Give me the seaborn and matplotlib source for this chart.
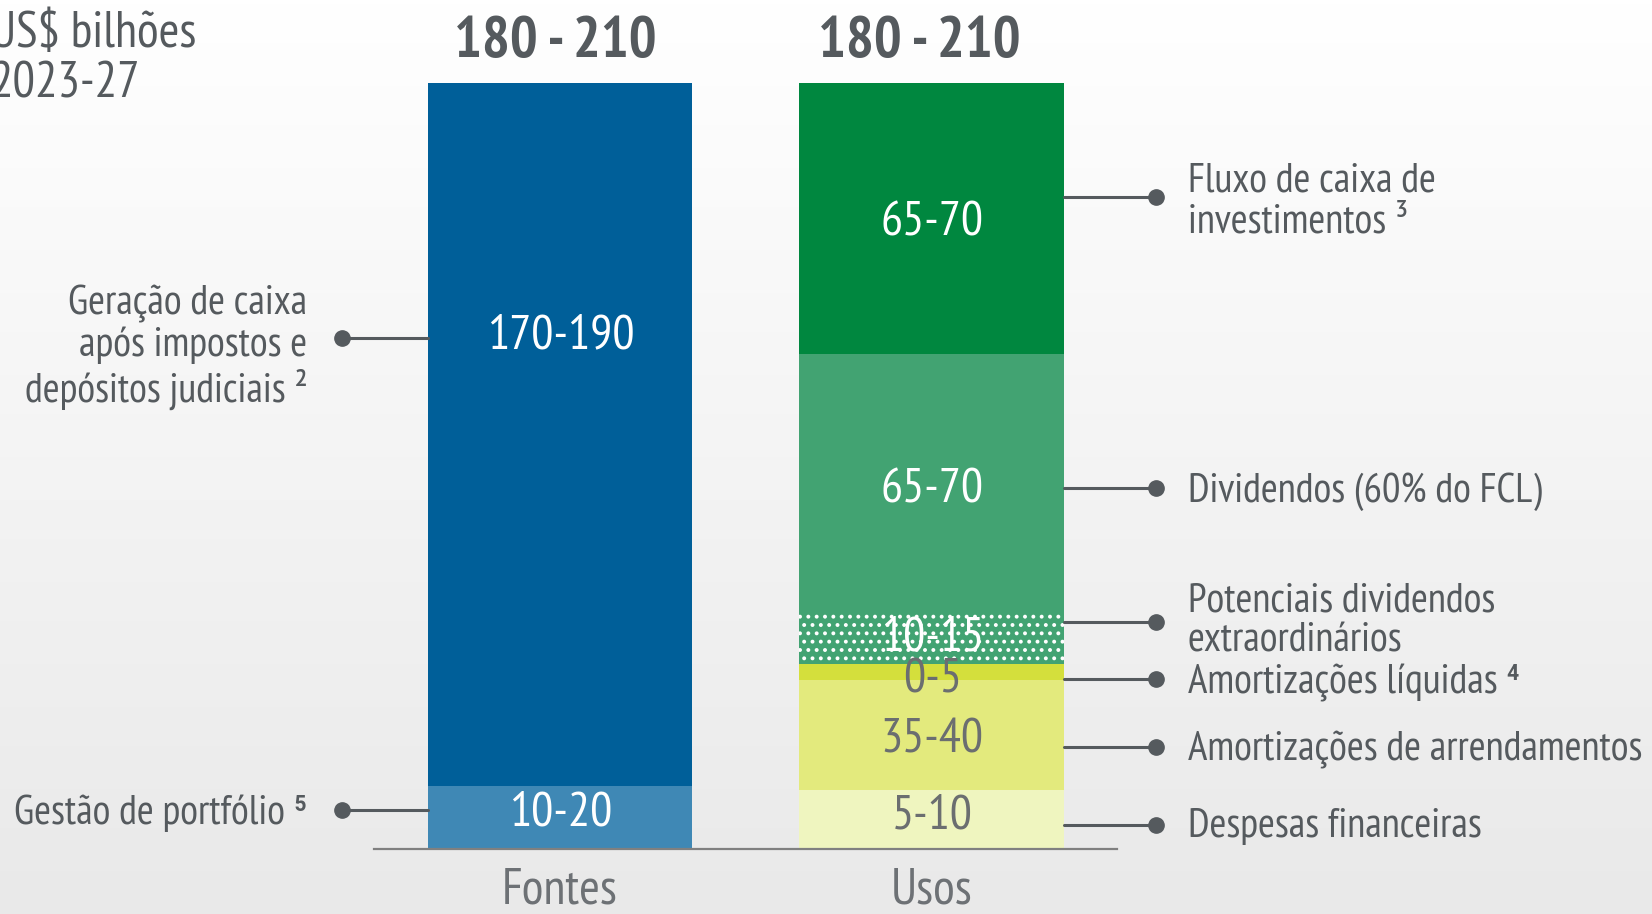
import numpy as np
import matplotlib
matplotlib.use("Agg")
import matplotlib.pyplot as plt
from matplotlib.colors import LinearSegmentedColormap
import seaborn as sns

# Dados - US$ bilhoes, 2023-27 (alturas, de baixo para cima)
categorias = ["Fontes", "Usos"]
totais_txt = ["180 - 210", "180 - 210"]

fontes_valores = [16, 179]
fontes_faixas = ["10-20", "170-190"]
fontes_nomes = ["Gestão de portfólio ⁵",
                "Geração de caixa\napós impostos e\ndepósitos judiciais ²"]

usos_valores = [15, 28, 4, 13, 66, 69]
usos_faixas = ["5-10", "35-40", "0-5", "10-15", "65-70", "65-70"]
usos_nomes = ["Despesas financeiras",
              "Amortizações de arrendamentos",
              "Amortizações líquidas ⁴",
              "Potenciais dividendos\nextraordinários",
              "Dividendos (60% do FCL)",
              "Fluxo de caixa de\ninvestimentos ³"]

# Estilo
fontes_cores = ["#3f88b5", "#005f99"]
fontes_txt_cor = ["white", "white"]
usos_cores = ["#eff5bf", "#e3ea7d", "#d4df3c", "#42a372", "#42a372", "#00873f"]
usos_txt_cor = ["#6b6e70", "#6b6e70", "#6b6e70", "white", "white", "white"]
usos_hatch = [None, None, None, "..", None, None]

cinza = "#555a5e"
largura = 0.712
fam = ["PT Sans Narrow", "Roboto Condensed", "DejaVu Sans"]

# deslocamentos (layout) dos rotulos internos e dos conectores
fontes_txt_desl = [1, 25]
fontes_con_desl = [2, 24.5]
usos_txt_desl = [0.9, -1.3, -2.1, 0.2, -1.7, -1.3]
usos_con_desl = [-1.4, -3, -1.8, 4.2, -1.2, 5.5]
nome_desl = [-0.4, -0.9, -0.9, 0.4, -0.9, -1.2]
fontes_nome_desl = [-0.8, -2.3]

sns.set_theme(style="white")
plt.rcParams["font.family"] = fam
plt.rcParams["hatch.linewidth"] = 1.6

fig = plt.figure(figsize=(16.52, 9.14), dpi=100)

# fundo em degrade
bg = fig.add_axes([0, 0, 1, 1], zorder=-10)
grad = np.linspace(0, 1, 256).reshape(-1, 1)
cmap_bg = LinearSegmentedColormap.from_list("bg", ["#ffffff", "#e9e9e9"])
bg.imshow(grad, aspect="auto", cmap=cmap_bg, extent=[0, 1, 0, 1], origin="upper")
bg.axis("off")

ax = fig.add_axes([0.2264, 0.0711, 0.4498, 0.838])
ax.set_facecolor("none")

colunas = [
    (categorias[0], fontes_valores, fontes_cores, [None, None], fontes_faixas,
     fontes_txt_cor, fontes_txt_desl),
    (categorias[1], usos_valores, usos_cores, usos_hatch, usos_faixas,
     usos_txt_cor, usos_txt_desl),
]

for cat, vals, cores, hatches, faixas, tcor, tdesl in colunas:
    acum = np.cumsum(vals)
    # barras acumuladas, da maior para a menor (empilhamento por sobreposicao)
    for i in reversed(range(len(vals))):
        kws = dict(edgecolor="white", linewidth=0)
        if hatches[i]:
            kws["hatch"] = hatches[i]
        sns.barplot(x=[cat], y=[acum[i]], order=categorias, color=cores[i],
                    saturation=1, width=largura, errorbar=None, ax=ax, **kws)
    xi = categorias.index(cat)
    base = acum - np.array(vals)
    for i, f in enumerate(faixas):
        ax.text(xi + 0.003, base[i] + vals[i] / 2 + tdesl[i], f, color=tcor[i],
                ha="center", va="center", fontsize=35.5, zorder=5)

# totais no topo
for xt, t in zip([-0.013, 0.968], totais_txt):
    ax.text(xt, 205.3, t, ha="center", va="center", fontsize=42,
            fontweight="bold", color=cinza, clip_on=False)

# conectores e rotulos - esquerda
base_f = np.cumsum(fontes_valores) - np.array(fontes_valores)
for i, nome in enumerate(fontes_nomes):
    y = base_f[i] + fontes_valores[i] / 2 + fontes_con_desl[i]
    ax.plot([-largura / 2, -0.585], [y, y], color=cinza, lw=2.2, clip_on=False)
    ax.plot(-0.585, y, "o", color=cinza, ms=11, clip_on=False)
    ax.text(-0.679, y + fontes_nome_desl[i], nome, ha="right", va="center",
            fontsize=29.5, color=cinza, linespacing=1.12, clip_on=False)

# conectores e rotulos - direita
base_u = np.cumsum(usos_valores) - np.array(usos_valores)
for i, nome in enumerate(usos_nomes):
    y = base_u[i] + usos_valores[i] / 2 + usos_con_desl[i]
    ax.plot([1 + largura / 2, 1.606], [y, y], color=cinza, lw=2.2, clip_on=False)
    ax.plot(1.606, y, "o", color=cinza, ms=11, clip_on=False)
    ax.text(1.69, y + nome_desl[i], nome, ha="left", va="center", fontsize=29.5,
            color=cinza, linespacing=1.12, clip_on=False)

ax.set_xlim(-0.5, 1.5)
ax.set_ylim(0, 195)
ax.set_yticks([])
ax.set_xlabel("")
ax.set_ylabel("")
for s in ["top", "left", "right"]:
    ax.spines[s].set_visible(False)
ax.spines["bottom"].set_color("#808080")
ax.spines["bottom"].set_linewidth(1.6)
ax.tick_params(axis="x", length=0, labelsize=36, labelcolor="#6d7175", pad=13)

# titulo da unidade
fig.text(-0.006, 0.935, "US$ bilhões\n2023-27", ha="left", va="center",
         fontsize=36, color=cinza, linespacing=1.12)

fig.savefig("out.png", dpi=100)
